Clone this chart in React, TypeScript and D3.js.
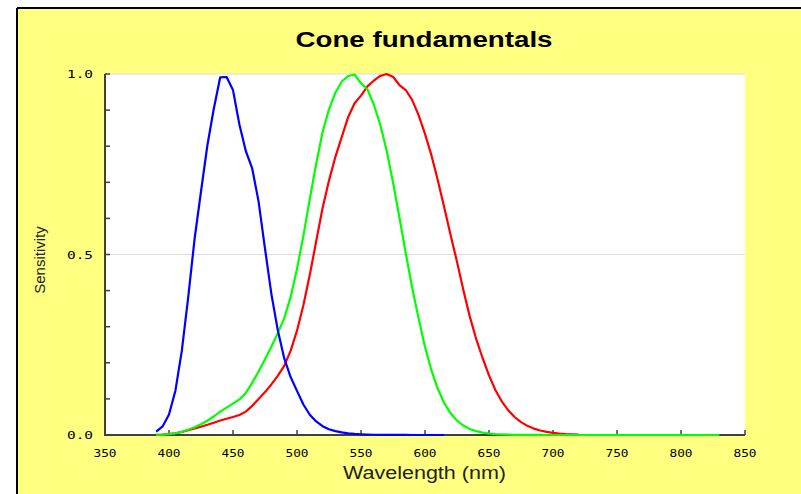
import React from 'react';
import * as d3 from 'd3';

// Wavelength grid (nm), 5 nm steps
const wavelengths = [
  390, 395, 400, 405, 410, 415, 420, 425, 430, 435, 440, 445, 450, 455, 460, 465, 470, 475, 480, 485,
  490, 495, 500, 505, 510, 515, 520, 525, 530, 535, 540, 545, 550, 555, 560, 565, 570, 575, 580, 585,
  590, 595, 600, 605, 610, 615, 620, 625, 630, 635, 640, 645, 650, 655, 660, 665, 670, 675, 680, 685,
  690, 695, 700, 705, 710, 715, 720, 725, 730, 735, 740, 745, 750, 755, 760, 765, 770, 775, 780, 785,
  790, 795, 800, 805, 810, 815, 820, 825, 830,
];

// Long-wavelength (L) cone sensitivity, 390–720 nm
const lCone = [
  0.000415, 0.00105, 0.00241, 0.00483, 0.00872, 0.0134, 0.0184, 0.0229, 0.0282, 0.0341,
  0.0403, 0.0449, 0.0499, 0.0553, 0.0647, 0.0807, 0.0995, 0.1188, 0.1401, 0.164,
  0.1916, 0.2329, 0.289, 0.3597, 0.4437, 0.5365, 0.6286, 0.7047, 0.7706, 0.8257,
  0.881, 0.9191, 0.9402, 0.9657, 0.9814, 0.9945, 1.0, 0.9923, 0.9694, 0.9556,
  0.9277, 0.886, 0.834, 0.7751, 0.7057, 0.6308, 0.5542, 0.4799, 0.4007, 0.3279,
  0.2658, 0.2133, 0.1651, 0.1247, 0.093, 0.0685, 0.0499, 0.0358, 0.0254, 0.0178,
  0.0124, 0.0086, 0.0059, 0.0041, 0.0028, 0.0019, 0.0013,
];

// Medium-wavelength (M) cone sensitivity, 390–830 nm
const mCone = [
  0.000368, 0.000959, 0.00227, 0.0047, 0.00879, 0.0145, 0.0217, 0.0296, 0.0395, 0.0518,
  0.0648, 0.0758, 0.087, 0.0985, 0.1165, 0.1444, 0.176, 0.2096, 0.2445, 0.2822,
  0.323, 0.3818, 0.4602, 0.5516, 0.6538, 0.7515, 0.8394, 0.9021, 0.9482, 0.9792,
  0.9945, 0.9987, 0.9743, 0.9577, 0.9155, 0.8601, 0.789, 0.7001, 0.6032, 0.5032,
  0.408, 0.3231, 0.244, 0.1795, 0.128, 0.0887, 0.0601, 0.0398, 0.0261, 0.0167,
  0.0107, 0.0067, 0.0042, 0.0026, 0.0016, 0.00098, 0.0006, 0.00037, 0.00023, 0.00014,
  0.000085, 0.000052, 0.000032, 0.00002, 0.000012, 0.0000078, 0.0000049, 0.0000031, 0.000002, 0.0000013,
  0.00000082, 0.00000053, 0.00000034, 0.00000022, 0.00000014, 0.00000009, 0.00000006, 0.00000004, 0.00000003, 0.00000002,
  0.00000001, 0.00000001, 0.00000001, 0.0, 0.0, 0.0, 0.0, 0.0, 0.0,
];

// Short-wavelength (S) cone sensitivity, 390–615 nm
const sCone = [
  0.00955, 0.0238, 0.0566, 0.1225, 0.233, 0.3814, 0.5436, 0.6745, 0.8026, 0.9036,
  0.991, 0.9915, 0.9554, 0.8602, 0.7867, 0.7383, 0.6464, 0.5164, 0.3903, 0.2903,
  0.2128, 0.1605, 0.1223, 0.0844, 0.0562, 0.0376, 0.0244, 0.0158, 0.0107, 0.00706,
  0.00455, 0.00291, 0.00185, 0.00118, 0.000744, 0.000471, 0.000298, 0.000189, 0.00012, 0.0000766,
  0.0000491, 0.0000316, 0.0000205, 0.0000133, 0.0000087, 0.0000057,
];

const xTickValues = [350, 400, 450, 500, 550, 600, 650, 700, 750, 800, 850];
const yTickValues = [0, 0.1, 0.2, 0.3, 0.4, 0.5, 0.6, 0.7, 0.8, 0.9, 1.0];
const yLabelValues = [0, 0.5, 1.0];
const gridValues = [0.5, 1.0];

const series = [
  { name: 'L', values: lCone, color: '#ff0000' },
  { name: 'M', values: mCone, color: '#00ff00' },
  { name: 'S', values: sCone, color: '#0000ff' },
];

export default function App() {
  const W = 801;
  const H = 494;
  const x = d3.scaleLinear().domain([350, 850]).range([105, 745]);
  const y = d3.scaleLinear().domain([0, 1]).range([435, 74]);
  const line = d3
    .line<[number, number]>()
    .x((d) => x(d[0]))
    .y((d) => y(d[1]));
  const fmt = d3.format('.1f');
  const tickFont = "'DejaVu Sans Mono', monospace";
  const axisColor = '#404040';

  return (
    <svg
      width={W}
      height={H}
      viewBox={`0 0 ${W} ${H}`}
      style={{ position: 'absolute', left: 0, top: 0, display: 'block' }}
    >
      <rect x={0} y={0} width={W} height={H} fill="#ffffff" />
      {/* panel */}
      <rect x={17} y={8} width={W - 17} height={H - 8} fill="#ffff80" />
      <line x1={17} y1={8} x2={W} y2={8} stroke="#000" strokeWidth={2} />
      <line x1={17} y1={8} x2={17} y2={H} stroke="#000" strokeWidth={2} />

      {/* title */}
      <text
        x={424}
        y={47}
        textAnchor="middle"
        fontFamily="'Liberation Sans', Arial, sans-serif"
        fontWeight="bold"
        fontSize={22}
        textLength={257}
        lengthAdjust="spacingAndGlyphs"
        fill="#000"
      >
        Cone fundamentals
      </text>

      {/* plot area */}
      <rect x={x(350)} y={y(1)} width={x(850) - x(350)} height={y(0) - y(1)} fill="#ffffff" />
      {gridValues.map((v) => (
        <line key={v} x1={x(350)} x2={x(850)} y1={y(v)} y2={y(v)} stroke="#dcdcdc" strokeWidth={1} />
      ))}

      {/* y axis */}
      <line x1={x(350)} x2={x(350)} y1={y(1)} y2={y(0)} stroke={axisColor} strokeWidth={2} />
      {yTickValues.map((v) => (
        <line key={v} x1={x(350)} x2={x(350) + 5} y1={y(v)} y2={y(v)} stroke={axisColor} strokeWidth={1.5} />
      ))}
      {yLabelValues.map((v) => (
        <text
          key={v}
          x={93}
          y={y(v) + 4}
          textAnchor="end"
          fontFamily={tickFont}
          fontSize={11}
          textLength={26}
          lengthAdjust="spacingAndGlyphs"
          fill="#000"
        >
          {fmt(v)}
        </text>
      ))}

      {/* x axis */}
      <line x1={x(350) - 1} x2={x(850)} y1={y(0)} y2={y(0)} stroke={axisColor} strokeWidth={2} />
      {xTickValues.map((v) => (
        <line key={v} x1={x(v)} x2={x(v)} y1={y(0)} y2={y(0) - 5} stroke={axisColor} strokeWidth={1.5} />
      ))}
      {xTickValues.map((v) => (
        <text
          key={v}
          x={x(v)}
          y={457}
          textAnchor="middle"
          fontFamily={tickFont}
          fontSize={10.5}
          textLength={23}
          lengthAdjust="spacingAndGlyphs"
          fill="#000"
        >
          {v}
        </text>
      ))}

      {/* curves, drawn over the axes */}
      {series.map((s) => (
        <path
          key={s.name}
          d={line(s.values.map((v, i) => [wavelengths[i], v] as [number, number])) || ''}
          fill="none"
          stroke={s.color}
          strokeWidth={2.2}
          strokeLinejoin="round"
        />
      ))}

      {/* axis titles */}
      <text
        x={424.5}
        y={479}
        textAnchor="middle"
        fontFamily="'Liberation Sans', Arial, sans-serif"
        fontSize={17.5}
        textLength={163}
        lengthAdjust="spacingAndGlyphs"
        fill="#222"
      >
        Wavelength (nm)
      </text>
      <text
        transform={`translate(44.5, ${260}) rotate(-90)`}
        textAnchor="middle"
        fontFamily="'Liberation Sans', Arial, sans-serif"
        fontSize={15}
        fill="#222"
      >
        Sensitivity
      </text>
    </svg>
  );
}
